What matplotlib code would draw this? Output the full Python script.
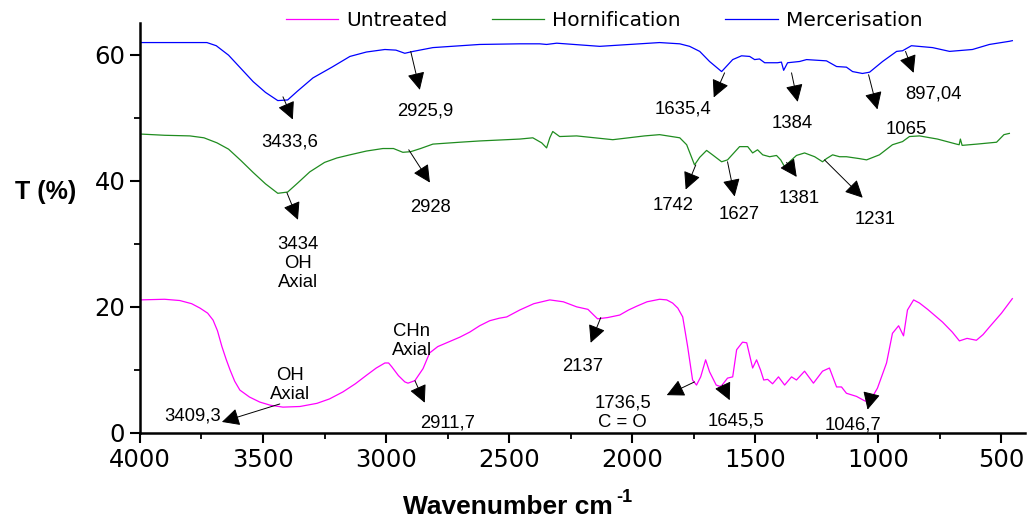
import matplotlib
matplotlib.use("Agg")
import matplotlib.pyplot as plt
from matplotlib.ticker import MultipleLocator

# ---------------- data ----------------
untreated_x = [4000, 3900, 3838, 3790, 3756, 3725, 3703, 3685, 3667, 3650, 3634, 3615, 3594, 3555,
               3513, 3470, 3419, 3350, 3281, 3230, 3176, 3125, 3078, 3040, 3005, 2990, 2977, 2950,
               2924, 2911, 2883, 2850, 2823, 2790, 2754, 2700, 2660, 2620, 2579, 2540, 2510, 2457,
               2400, 2335, 2280, 2226, 2180, 2141, 2100, 2051, 2015, 1982, 1940, 1889, 1860, 1836,
               1815, 1795, 1775, 1755, 1739, 1722, 1702, 1686, 1659, 1645, 1637, 1613, 1592, 1576,
               1552, 1535, 1511, 1495, 1479, 1466, 1450, 1430, 1406, 1381, 1353, 1333, 1300, 1264,
               1227, 1199, 1170, 1150, 1130, 1089, 1056, 1046, 1028, 1004, 967, 943, 918, 898, 882,
               857, 833, 800, 740, 700, 671, 640, 602, 575, 549, 500, 456]
untreated_y = [21.1, 21.2, 21.0, 20.5, 19.8, 19.0, 17.9, 16.2, 13.7, 11.7, 10.0, 8.2, 6.8, 5.7,
               4.9, 4.4, 4.1, 4.2, 4.7, 5.4, 6.5, 7.8, 9.2, 10.3, 11.1, 11.1, 10.5, 9.1,
               8.1, 7.9, 8.3, 10.2, 12.7, 13.7, 14.3, 15.2, 16.0, 17.0, 17.8, 18.2, 18.4, 19.5,
               20.5, 21.1, 20.8, 20.0, 19.6, 18.1, 18.3, 18.7, 19.5, 20.1, 20.8, 21.2, 21.1, 20.6,
               19.8, 18.4, 13.7, 8.4, 7.6, 8.9, 11.6, 9.7, 7.6, 7.4, 7.5, 8.7, 8.9, 13.2,
               14.4, 14.3, 10.3, 11.6, 10.0, 8.4, 8.5, 7.8, 8.9, 7.6, 8.9, 8.4, 9.8, 7.9,
               9.8, 10.3, 7.3, 7.3, 6.3, 5.8, 5.1, 5.0, 5.5, 7.1, 11.1, 15.8, 17.0, 15.4, 19.5,
               21.1, 20.6, 19.6, 17.6, 16.0, 14.6, 15.0, 14.7, 15.6, 16.8, 19.0, 21.3]

hornif_x = [4000, 3900, 3797, 3740, 3687, 3640, 3590, 3540, 3490, 3440, 3400, 3360, 3310, 3250,
            3200, 3147, 3080, 3013, 2970, 2932, 2900, 2860, 2810, 2700, 2620, 2457, 2404, 2368,
            2348, 2335, 2323, 2295, 2226, 2079, 1950, 1889, 1807, 1779, 1747, 1726, 1698, 1674,
            1637, 1613, 1564, 1531, 1511, 1491, 1470, 1442, 1414, 1397, 1381, 1361, 1333, 1300,
            1259, 1227, 1211, 1186, 1158, 1130, 1077, 1048, 996, 943, 902, 874, 833, 760, 683,
            672, 667, 660, 600, 520, 490, 468]
hornif_y = [47.4, 47.2, 47.1, 46.8, 46.0, 45.0, 43.2, 41.3, 39.5, 38.0, 38.2, 39.6, 41.4, 42.9,
            43.6, 44.1, 44.7, 45.1, 45.1, 44.5, 44.6, 45.1, 45.8, 46.1, 46.3, 46.6, 46.8, 46.0,
            45.2, 46.8, 47.8, 47.0, 47.1, 46.5, 47.1, 47.3, 46.8, 45.7, 42.5, 43.7, 44.8, 44.1,
            43.0, 43.3, 45.4, 45.4, 44.4, 44.9, 44.1, 43.8, 44.0, 43.3, 42.2, 43.0, 44.0, 44.4,
            43.8, 43.0, 43.5, 44.1, 43.8, 43.8, 43.5, 43.3, 44.1, 45.7, 46.2, 47.0, 47.1, 46.6,
            45.8, 45.7, 46.6, 45.6, 45.8, 46.1, 47.3, 47.5]

merc_x = [4000, 3900, 3800, 3728, 3690, 3640, 3590, 3540, 3490, 3440, 3400, 3360, 3297, 3220,
          3147, 3080, 3005, 2960, 2924, 2890, 2810, 2620, 2457, 2376, 2348, 2307, 2132, 1889,
          1807, 1767, 1726, 1686, 1637, 1592, 1556, 1523, 1503, 1483, 1462, 1410, 1394, 1385,
          1369, 1320, 1292, 1211, 1170, 1130, 1105, 1065, 1036, 983, 926, 902, 866, 780, 711,
          618, 549, 468, 456]
merc_y = [61.9, 61.9, 61.9, 61.9, 61.4, 59.9, 57.8, 55.7, 54.0, 52.7, 52.8, 54.2, 56.3, 58.0,
          59.7, 60.4, 60.8, 60.7, 60.2, 60.5, 61.1, 61.6, 61.7, 61.7, 61.6, 61.8, 61.3, 61.9,
          61.7, 61.3, 60.5, 58.9, 57.3, 59.2, 59.8, 59.7, 59.2, 59.3, 58.7, 58.7, 58.8, 57.5,
          58.7, 58.9, 59.2, 59.0, 58.1, 58.0, 57.3, 57.0, 57.2, 58.9, 60.5, 60.6, 61.4, 61.1, 60.5,
          60.8, 61.6, 62.1, 62.2]

series_names = ["Untreated", "Hornification", "Mercerisation"]
series_colors = ["#ff00ff", "#1f8c1f", "#0000ff"]

x_ticks = [4000, 3500, 3000, 2500, 2000, 1500, 1000, 500]
y_ticks = [0, 20, 40, 60]

# annotations: (label, tail(x,y), head(x,y), text(x,y))
annotations = [
    ("3433,6", (3419, 53.3), (3379, 49.7), (3391, 46.2)),
    ("2925,9", (2900, 60.5), (2863, 54.4), (2839, 51.0)),
    ("1635,4", (1625, 57.1), (1669, 53.2), (1795, 51.4)),
    ("1384", (1353, 57.1), (1328, 52.5), (1349, 49.0)),
    ("1065", (1040, 56.8), (1004, 51.3), (886, 48.1)),
    ("897,04", (890, 60.5), (857, 57.1), (776, 53.7)),
    ("3434\nOH\nAxial", (3403, 38.1), (3358, 33.8), (3358, 26.9)),
    ("2928", (2908, 44.9), (2822, 39.7), (2818, 35.7)),
    ("1742", (1742, 42.5), (1783, 38.6), (1836, 36.0)),
    ("1627", (1613, 43.0), (1584, 37.5), (1564, 34.6)),
    ("1381", (1373, 42.9), (1332, 40.6), (1320, 37.1)),
    ("1231", (1219, 43.3), (1064, 37.3), (1012, 33.8)),
    ("3409,3", (3432, 4.6), (3667, 1.75), (3785, 2.7)),
    ("2911,7", (2883, 8.3), (2843, 4.8), (2749, 1.6)),
    ("2137", (2128, 18.3), (2169, 14.3), (2201, 10.6)),
    ("1736,5\nC = O", (1747, 8.1), (1860, 6.0), (2039, 3.2)),
    ("1645,5", (1633, 7.6), (1604, 5.2), (1580, 1.9)),
    ("1046,7", (1032, 5.6), (1044, 3.7), (1105, 1.3)),
]
free_labels = [("OH\nAxial", (3391, 7.6)), ("CHn\nAxial", (2896, 14.6))]

# ---------------- plot ----------------
fig = plt.figure(figsize=(10.29, 5.17), dpi=100)
ax = fig.add_axes([0.136, 0.1625, 0.86, 0.793])

lines = []
for xs, ys, name, c in zip([untreated_x, hornif_x, merc_x], [untreated_y, hornif_y, merc_y],
                           series_names, series_colors):
    ln, = ax.plot(xs, ys, color=c, lw=0.9, label=name)
    lines.append(ln)

ax.set_xlim(4000, 405)
ax.set_ylim(0, 65)
ax.set_xticks(x_ticks)
ax.set_yticks(y_ticks)
ax.xaxis.set_minor_locator(MultipleLocator(250))
ax.yaxis.set_minor_locator(MultipleLocator(10))
for s in ["top", "right"]:
    ax.spines[s].set_visible(False)
for s in ["left", "bottom"]:
    ax.spines[s].set_linewidth(1.8)
ax.tick_params(which="major", direction="out", length=7, width=1.5, labelsize=17.5,
               colors="black")
ax.tick_params(which="minor", direction="out", length=4, width=1.3)
for lab in ax.get_xticklabels() + ax.get_yticklabels():
    lab.set_fontfamily("DejaVu Sans")

afont = dict(family="Liberation Sans", size=13.3, color="black")
for label, tail, head, txt in annotations:
    ax.annotate("", xy=head, xytext=tail,
                arrowprops=dict(arrowstyle="-|>,head_length=0.6,head_width=0.3",
                                color="black", lw=0.7, shrinkA=0, shrinkB=0,
                                mutation_scale=18))
    ax.text(txt[0], txt[1], label, ha="center", va="center", linespacing=1.15, **afont)
for label, pos in free_labels:
    ax.text(pos[0], pos[1], label, ha="center", va="center", linespacing=1.15, **afont)

fig.text(0.044, 0.628, "T (%)", ha="center", va="center", fontsize=18,
         fontweight="bold", family="Liberation Sans")
fig.text(0.5957, 0.006, "Wavenumber cm", ha="right", va="baseline", fontsize=19,
         fontweight="bold", family="Liberation Sans")
fig.text(0.5985, 0.029, "-1", ha="left", va="baseline", fontsize=13,
         fontweight="bold", family="Liberation Sans")

fig.legend(handles=lines, loc="center", bbox_to_anchor=(0.587, 0.960), ncol=3,
           frameon=False, prop=dict(family="DejaVu Sans", size=14.5),
           handlelength=2.6, handletextpad=0.4, columnspacing=2.2)

fig.savefig("out.png", dpi=100)
